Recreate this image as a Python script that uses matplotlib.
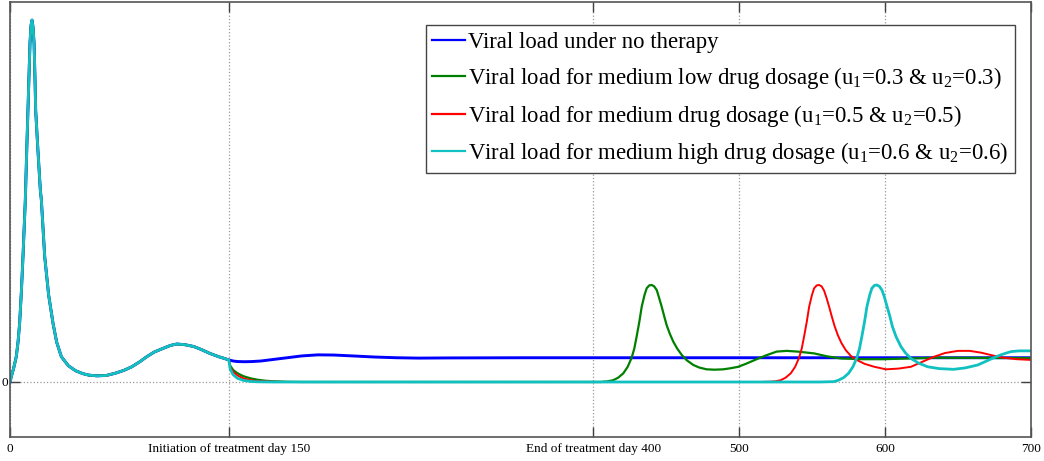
import matplotlib
matplotlib.use("Agg")
import matplotlib.pyplot as plt

# ---------------- data ----------------
# common pre-treatment segment (days 0-150), identical for all curves
pre_t = [0, 0.9, 2.5, 4.3, 5.5, 6.6, 7.8, 8.9, 10.5, 11.4, 12.3, 13.0, 13.7, 14.4, 15.1,
         15.8, 16.5, 17.1, 17.6, 19, 20.8, 21.5, 23.8, 26.5, 29.5, 32, 35.2, 40, 45, 50,
         54, 59.4, 66, 72, 78, 83.5, 89, 93.8, 99, 105, 110, 114.4, 120, 126, 131, 137,
         143, 147]
pre_v = [0, 0.15, 0.38, 0.70, 1.1, 1.62, 2.5, 3.46, 5.03, 6.3, 7.51, 8.43, 9.36, 9.85, 10.0,
         9.8, 9.36, 8.43, 7.51, 6.5, 5.3, 5.03, 3.46, 2.4, 1.62, 1.1, 0.70, 0.45, 0.31, 0.23,
         0.19, 0.17, 0.18, 0.24, 0.32, 0.42, 0.56, 0.70, 0.83, 0.93, 1.01, 1.05, 1.03, 0.98,
         0.90, 0.79, 0.70, 0.65]

# no therapy (after day 150)
blue_t = [150, 153, 156, 161, 166, 172, 180, 190, 200, 211, 222, 235, 250, 265, 280,
          300, 350, 400, 450, 500, 550, 600, 650, 700]
blue_v = [0.61, 0.58, 0.565, 0.56, 0.565, 0.58, 0.62, 0.67, 0.72, 0.75, 0.745, 0.72, 0.69,
          0.67, 0.66, 0.665, 0.67, 0.67, 0.67, 0.67, 0.67, 0.67, 0.67, 0.67]

# u1=0.3, u2=0.3
green_t = [150, 151, 153, 156, 160, 165, 170, 175, 180, 190, 200, 300, 400, 405, 410,
           413.6, 417, 420.5, 423.5, 426.2, 428, 429.6, 431.5, 433.1, 435, 436.5, 438.3,
           440, 441.7, 443.4, 445, 446.8, 448.5, 450.2, 452.5, 454.8, 457.5, 460.5, 464,
           468.5, 472.5, 477.6, 483, 489, 494, 499.3, 505, 511.9, 518, 525.6, 532.5, 540,
           551.3, 560, 569.7, 585, 599, 634, 670, 700]
green_v = [0.61, 0.45, 0.33, 0.24, 0.16, 0.10, 0.06, 0.035, 0.02, 0.005, 0, 0, 0, 0.0, 0.02,
           0.05, 0.12, 0.24, 0.42, 0.67, 0.92, 1.25, 1.67, 2.08, 2.40, 2.59, 2.67,
           2.68, 2.64, 2.54, 2.33, 2.08, 1.82, 1.57, 1.32, 1.11, 0.92, 0.75, 0.60,
           0.47, 0.40, 0.35, 0.34, 0.35, 0.38, 0.42, 0.51, 0.63, 0.73, 0.84, 0.86, 0.84,
           0.79, 0.71, 0.65, 0.63, 0.63, 0.67, 0.665, 0.66]

# u1=0.5, u2=0.5
red_t = [150, 151, 153, 156, 160, 165, 170, 180, 190, 300, 400, 500, 515, 521.6, 525,
         528.4, 531.8, 535.3, 538.3, 541, 542.8, 544.4, 546.3, 547.9, 549.8, 551.3, 553.1,
         554.8, 556.5, 558.2, 560, 561.8, 563.5, 565.3, 567.5, 570, 573, 576.5, 581,
         586, 592.6, 600.6, 609, 617.7, 625, 633.7, 641, 649.8, 658, 665.8, 672, 679.5,
         690, 700]
red_v = [0.61, 0.40, 0.28, 0.18, 0.10, 0.05, 0.025, 0.01, 0, 0, 0, 0, 0.0, 0.01, 0.02,
         0.05, 0.12, 0.24, 0.42, 0.67, 0.92, 1.25, 1.67, 2.08, 2.40, 2.59, 2.67,
         2.68, 2.64, 2.52, 2.30, 2.05, 1.80, 1.55, 1.30, 1.08, 0.88, 0.72, 0.60,
         0.50, 0.42, 0.35, 0.37, 0.42, 0.55, 0.70, 0.80, 0.86, 0.86, 0.81, 0.75, 0.68,
         0.63, 0.61]

# u1=0.6, u2=0.6
cyan_t = [150, 151, 153, 156, 160, 165, 170, 180, 300, 400, 500, 555, 565, 568, 571.5,
          574.9, 577.9, 580.6, 582.4, 584, 585.9, 587.5, 589.4, 590.9, 592.7, 594.4,
          596.1, 597.8, 599.4, 601.2, 603, 605, 607.5, 610.8, 614, 617.7, 623, 629.2,
          637, 647, 655, 663.5, 669, 675, 680, 686.3, 692, 698.7, 700]
cyan_v = [0.61, 0.35, 0.20, 0.10, 0.045, 0.015, 0.005, 0, 0, 0, 0, 0, 0.01, 0.05, 0.12,
          0.24, 0.42, 0.67, 0.92, 1.25, 1.67, 2.08, 2.40, 2.59, 2.67, 2.68,
          2.64, 2.54, 2.36, 2.10, 1.85, 1.53, 1.25, 0.98, 0.80, 0.65, 0.52, 0.42,
          0.37, 0.35, 0.39, 0.47, 0.57, 0.68, 0.76, 0.84, 0.86, 0.86, 0.86]

xticks = [0, 150, 400, 500, 600, 700]
xtick_labels = ["0", "Initiation of treatment day 150", "End of treatment day 400",
                "500", "600", "700"]
legend_labels = [
    "Viral load under no therapy",
    "Viral load for medium low drug dosage (u$_1$=0.3 & u$_2$=0.3)",
    "Viral load for medium drug dosage (u$_1$=0.5 & u$_2$=0.5)",
    "Viral load for medium high drug dosage (u$_1$=0.6 & u$_2$=0.6)",
]

# ---------------- plot ----------------
plt.rcParams['font.family'] = ['Liberation Serif', 'DejaVu Serif']
plt.rcParams['mathtext.fontset'] = 'custom'
plt.rcParams['mathtext.rm'] = 'Liberation Serif'
plt.rcParams['mathtext.it'] = 'Liberation Serif'

W, H = 1044, 461
fig = plt.figure(figsize=(W / 100, H / 100), dpi=100)
ax = fig.add_axes([10 / W, 1 - 437 / H, (1031 - 10) / W, (437 - 2) / H])

blue_c = "#0000ff"
green_c = "#008000"
red_c = "#ff0000"
cyan_c = "#11c0c0"

def seg(tt, vv):
    return list(pre_t) + list(tt), list(pre_v) + list(vv)

t, v = seg(blue_t, blue_v)
l1, = ax.plot(t, v, color=blue_c, lw=2.1)
t, v = seg(green_t, green_v)
l2, = ax.plot(t, v, color=green_c, lw=1.6)
t, v = seg(red_t, red_v)
l3, = ax.plot(t, v, color=red_c, lw=1.4)
t, v = seg(cyan_t, cyan_v)
l4, = ax.plot(t, v, color=cyan_c, lw=2.0)

ax.set_xlim(0, 700)
ax.set_ylim(-1.52, 10.5)
ax.set_xticks(xticks)
ax.set_xticklabels(xtick_labels)
ax.set_yticks([0])
ax.set_yticklabels(["0"])
ax.grid(True, linestyle=":", color="#9a9a9a", linewidth=0.9)
ax.tick_params(direction="in", length=7, width=1.0, color="#404040",
               top=True, right=True, labelsize=9.5, pad=4)
ax.tick_params(axis='y', pad=1)
for s in ax.spines.values():
    s.set_color("#555555")
    s.set_linewidth(1.2)

leg = ax.legend([l1, l2, l3, l4], legend_labels, loc="upper left",
                bbox_to_anchor=(425.5 / W, 1 - 25 / H), bbox_transform=fig.transFigure,
                fontsize=16.4, frameon=True, fancybox=False, framealpha=1,
                edgecolor="#444444", handlelength=1.42, handletextpad=0.15,
                borderpad=0.3, labelspacing=0.52, borderaxespad=0)
leg.get_frame().set_linewidth(1.0)
for h in leg.get_lines():
    h.set_linewidth(1.6)

fig.savefig("out.png", dpi=100)
